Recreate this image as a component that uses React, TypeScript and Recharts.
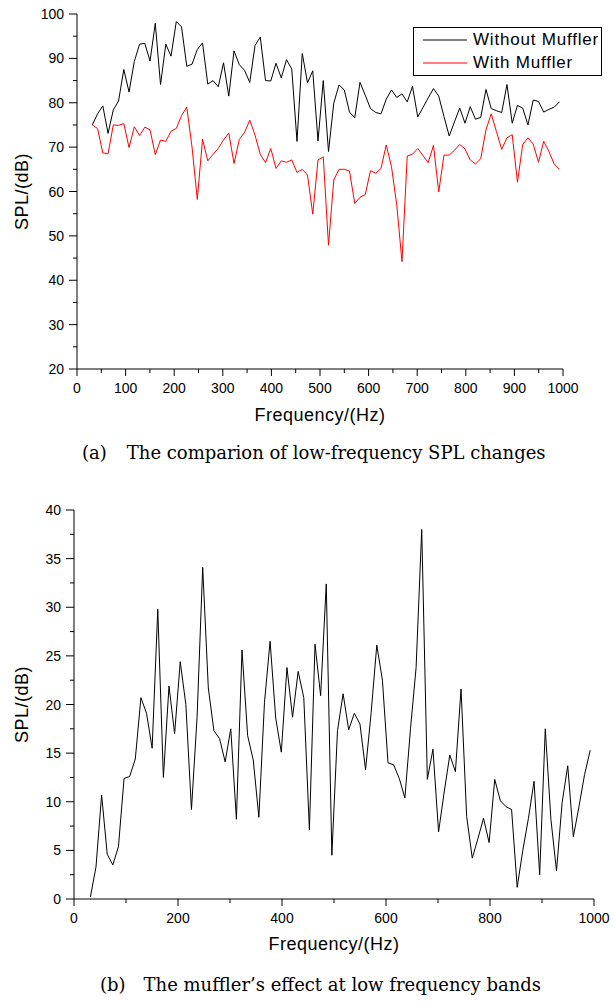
import React from 'react';
import { LineChart, Line, XAxis, YAxis, Legend } from 'recharts';

// frequency bins (Hz), shared by both panels
const freqs = [
  31.5, 42.3, 53.1, 63.9, 74.7, 85.5, 96.3, 107.1, 117.9, 128.7,
  139.5, 150.3, 161.1, 171.9, 182.7, 193.5, 204.3, 215.1, 225.9, 236.7,
  247.5, 258.3, 269.1, 279.9, 290.7, 301.5, 312.3, 323.1, 333.9, 344.7,
  355.5, 366.3, 377.1, 387.9, 398.7, 409.5, 420.3, 431.1, 441.9, 452.7,
  463.5, 474.3, 485.1, 495.9, 506.7, 517.5, 528.3, 539.1, 549.9, 560.7,
  571.5, 582.3, 593.1, 603.9, 614.7, 625.5, 636.3, 647.1, 657.9, 668.7,
  679.5, 690.3, 701.1, 711.9, 722.7, 733.5, 744.3, 755.1, 765.9, 776.7,
  787.5, 798.3, 809.1, 819.9, 830.7, 841.5, 852.3, 863.1, 873.9, 884.7,
  895.5, 906.3, 917.1, 927.9, 938.7, 949.5, 960.3, 971.1, 981.9, 992.7,
];

const withoutMuffler = [
  75.0, 77.5, 79.3, 73.1, 78.4, 80.4, 87.5, 82.4, 89.3, 93.2,
  93.4, 89.4, 97.9, 84.1, 93.2, 90.5, 98.3, 97.1, 88.2, 88.7,
  92.0, 93.5, 84.2, 85.0, 83.6, 89.0, 81.5, 91.7, 88.6, 87.3,
  84.6, 92.9, 94.8, 85.0, 84.9, 88.9, 85.6, 89.7, 87.6, 71.3,
  91.1, 84.5, 87.2, 71.4, 85.0, 69.0, 79.9, 84.0, 82.9, 77.9,
  76.6, 84.6, 81.7, 78.7, 77.8, 77.5, 80.8, 82.9, 81.2, 82.0,
  80.2, 83.7, 76.8, 78.9, 81.1, 83.2, 81.5, 76.9, 72.5, 75.7,
  78.8, 75.4, 79.1, 76.3, 76.7, 83.0, 78.7, 78.2, 77.8, 84.1,
  75.4, 79.4, 78.8, 75.0, 80.6, 80.3, 77.9, 78.5, 79.0, 80.2,
];

const withMuffler = [
  75.0, 74.2, 68.7, 68.5, 75.0, 74.9, 75.3, 69.9, 74.6, 72.6,
  74.5, 73.9, 68.3, 71.6, 71.3, 73.6, 74.2, 77.1, 79.0, 70.0,
  58.2, 71.8, 66.9, 68.4, 69.7, 71.6, 73.2, 66.3, 71.7, 73.3,
  76.1, 72.7, 68.4, 66.5, 69.7, 65.2, 66.9, 66.6, 67.1, 64.3,
  65.0, 63.7, 54.9, 67.1, 67.8, 47.9, 62.6, 65.0, 65.0, 64.6,
  57.3, 58.7, 59.3, 64.7, 64.1, 65.2, 70.5, 65.6, 57.0, 44.2,
  68.0, 68.4, 69.7, 68.1, 66.5, 70.4, 59.9, 68.2, 68.2, 69.3,
  70.6, 69.6, 67.1, 66.2, 67.4, 73.9, 77.5, 73.5, 69.5, 72.1,
  72.8, 62.1, 70.6, 72.1, 70.7, 66.6, 71.3, 69.0, 66.2, 65.0,
];

// panel (b): SPL reduction
const reduction = [
  0.2, 3.3, 10.7, 4.6, 3.5, 5.4, 12.4, 12.6, 14.4, 20.7,
  19.1, 15.5, 29.8, 12.5, 21.9, 17.0, 24.4, 20.0, 9.2, 18.7,
  34.1, 21.7, 17.3, 16.5, 14.1, 17.5, 8.2, 25.6, 16.8, 14.3,
  8.4, 20.2, 26.5, 18.6, 15.1, 23.8, 18.7, 23.4, 20.7, 7.1,
  26.2, 20.9, 32.4, 4.5, 17.3, 21.1, 17.4, 19.1, 18.0, 13.3,
  19.2, 26.1, 22.5, 14.0, 13.8, 12.4, 10.4, 17.5, 23.8, 38.0,
  12.3, 15.4, 6.9, 11.0, 14.8, 13.1, 21.6, 8.5, 4.2, 6.2,
  8.3, 5.8, 12.3, 10.1, 9.5, 9.2, 1.2, 5.0, 8.3, 12.1,
  2.5, 17.5, 8.2, 2.9, 9.9, 13.7, 6.4, 9.5, 12.8, 15.3,
];

const seriesNames = ['Without Muffler', 'With Muffler'];

const topTicksX = [0, 50, 100, 150, 200, 250, 300, 350, 400, 450, 500, 550, 600, 650, 700, 750, 800, 850, 900, 950, 1000];
const topTicksY = [20, 25, 30, 35, 40, 45, 50, 55, 60, 65, 70, 75, 80, 85, 90, 95, 100];
const bottomTicksX = [0, 100, 200, 300, 400, 500, 600, 700, 800, 900, 1000];
const bottomTicksY = [0, 2.5, 5, 7.5, 10, 12.5, 15, 17.5, 20, 22.5, 25, 27.5, 30, 32.5, 35, 37.5, 40];

const SANS = '"Liberation Sans", Arial, sans-serif';
const SERIF = '"DejaVu Serif", serif';

const topData = freqs.map((f, i) => ({ f, without: withoutMuffler[i], with: withMuffler[i] }));
const bottomData = freqs.map((f, i) => ({ f, diff: reduction[i] }));

function XTick({ x, y, payload, every }: any) {
  const major = payload.value % every === 0;
  return (
    <g>
      <line x1={x} x2={x} y1={y} y2={y + (major ? 7 : 4)} stroke="#000" />
      {major && (
        <text x={x} y={y + 24} textAnchor="middle" fontSize={14} fontFamily={SANS} fill="#000">
          {payload.value}
        </text>
      )}
    </g>
  );
}

function YTick({ x, y, payload, every }: any) {
  const major = payload.value % every === 0;
  return (
    <g>
      <line x1={x} x2={x - (major ? 8 : 4)} y1={y} y2={y} stroke="#000" />
      {major && (
        <text x={x - 13} y={y + 5} textAnchor="end" fontSize={14} fontFamily={SANS} fill="#000">
          {payload.value}
        </text>
      )}
    </g>
  );
}

const xTitle = (dy: number) => ({ viewBox, value }: any) => (
  <text
    x={viewBox.x + viewBox.width / 2}
    y={viewBox.y + dy}
    textAnchor="middle"
    fontSize={18}
    letterSpacing={0.5}
    fontFamily={SANS}
    fill="#000"
  >
    {value}
  </text>
);

const yTitle = ({ viewBox, value }: any) => {
  const cx = viewBox.x + 28;
  const cy = viewBox.y + viewBox.height / 2;
  return (
    <text
      x={cx}
      y={cy}
      transform={`rotate(-90, ${cx}, ${cy})`}
      textAnchor="middle"
      fontSize={18}
      letterSpacing={0.5}
      fontFamily={SANS}
      fill="#000"
    >
      {value}
    </text>
  );
};

function LegendBox({ payload }: any) {
  const items = (payload || [])
    .slice()
    .sort((a: any, b: any) => seriesNames.indexOf(a.value) - seriesNames.indexOf(b.value));
  return (
    <div
      style={{
        border: '1px solid #000',
        background: '#fff',
        width: 187,
        padding: '1px 0',
        fontFamily: SANS,
      }}
    >
      {items.map((p: any) => (
        <div key={p.value} style={{ display: 'flex', alignItems: 'center', height: 22.7 }}>
          <svg width={53} height={4} style={{ display: 'block' }}>
            <line x1={9} x2={53} y1={2} y2={2} stroke={p.color} strokeWidth={1} />
          </svg>
          <span style={{ marginLeft: 6, fontSize: 17, letterSpacing: 0.8, lineHeight: '20px' }}>{p.value}</span>
        </div>
      ))}
    </div>
  );
}

const captionStyle: React.CSSProperties = {
  position: 'absolute',
  fontFamily: SERIF,
  fontSize: 18,
  lineHeight: '20px',
  whiteSpace: 'nowrap',
  color: '#000',
};

export default function App() {
  return (
    <div style={{ position: 'absolute', left: 0, top: 0, width: 613, height: 1003, background: '#fff' }}>
      <div style={{ position: 'absolute', left: 0, top: 0 }}>
        <LineChart width={613} height={440} data={topData} margin={{ top: 14, right: 50, left: 0, bottom: 0 }}>
          <XAxis
            dataKey="f"
            type="number"
            domain={[0, 1000]}
            ticks={topTicksX}
            interval={0}
            height={71}
            tickSize={0}
            tickMargin={0}
            tickLine={false}
            axisLine={{ stroke: '#000' }}
            tick={<XTick every={100} />}
            label={{ value: 'Frequency/(Hz)', content: xTitle(52) }}
          />
          <YAxis
            type="number"
            domain={[20, 100]}
            ticks={topTicksY}
            interval={0}
            width={77}
            tickSize={0}
            tickMargin={0}
            tickLine={false}
            axisLine={{ stroke: '#000' }}
            tick={<YTick every={10} />}
            label={{ value: 'SPL/(dB)', content: yTitle }}
          />
          <Legend
            layout="horizontal"
            verticalAlign="middle"
            align="center"
            content={<LegendBox />}
            wrapperStyle={{ position: 'absolute', left: 413, top: 27, width: 'auto' }}
          />
          <Line type="linear" dataKey="without" name={seriesNames[0]} stroke="#000000" strokeWidth={1} dot={false} isAnimationActive={false} />
          <Line type="linear" dataKey="with" name={seriesNames[1]} stroke="#ff0000" strokeWidth={1} dot={false} isAnimationActive={false} />
        </LineChart>
      </div>
      <div style={{ ...captionStyle, left: 82, top: 443 }}>
        (a)<span style={{ marginLeft: 20 }}>The comparion of low-frequency SPL changes</span>
      </div>

      <div style={{ position: 'absolute', left: 0, top: 496 }}>
        <LineChart width={613} height={507} data={bottomData} margin={{ top: 14, right: 19, left: 0, bottom: 0 }}>
          <XAxis
            dataKey="f"
            type="number"
            domain={[0, 1000]}
            ticks={bottomTicksX}
            interval={0}
            height={104}
            tickSize={0}
            tickMargin={0}
            tickLine={false}
            axisLine={{ stroke: '#000' }}
            tick={<XTick every={200} />}
            label={{ value: 'Frequency/(Hz)', content: xTitle(51) }}
          />
          <YAxis
            type="number"
            domain={[0, 40]}
            ticks={bottomTicksY}
            interval={0}
            width={74}
            tickSize={0}
            tickMargin={0}
            tickLine={false}
            axisLine={{ stroke: '#000' }}
            tick={<YTick every={5} />}
            label={{ value: 'SPL/(dB)', content: yTitle }}
          />
          <Line type="linear" dataKey="diff" stroke="#000000" strokeWidth={1} dot={false} isAnimationActive={false} />
        </LineChart>
      </div>
      <div style={{ ...captionStyle, left: 100, top: 975 }}>
        (b)<span style={{ marginLeft: 18 }}>The muffler’s effect at low frequency bands</span>
      </div>
    </div>
  );
}
